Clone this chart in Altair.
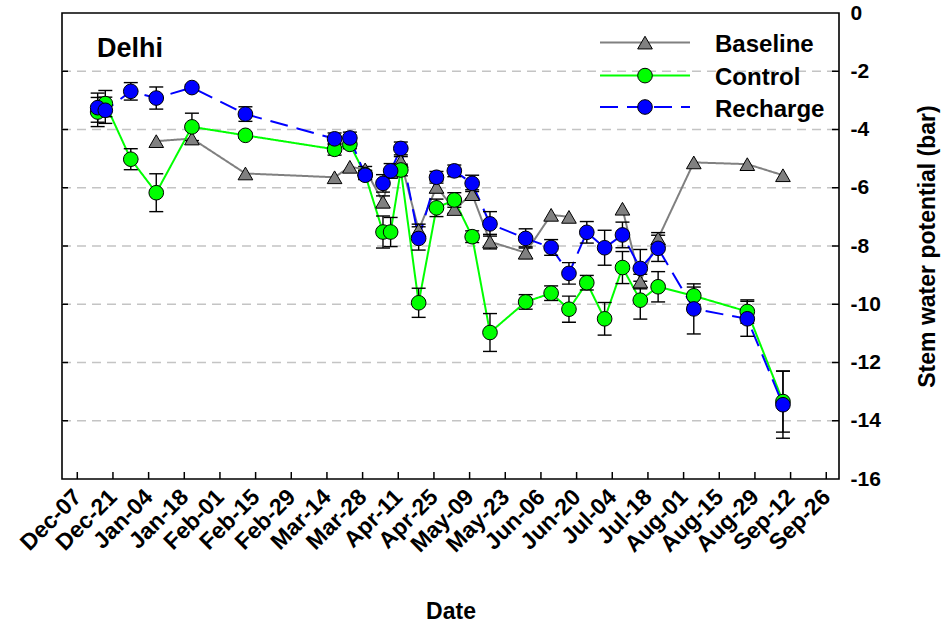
import altair as alt
import pandas as pd

# ---------------- data ----------------
dates = ["2007-12-15", "2007-12-18", "2007-12-28", "2008-01-07", "2008-01-21", "2008-02-11",
         "2008-03-17", "2008-03-23", "2008-03-29", "2008-04-05", "2008-04-08", "2008-04-12",
         "2008-04-19", "2008-04-26", "2008-05-03", "2008-05-10", "2008-05-17", "2008-05-31",
         "2008-06-10", "2008-06-17", "2008-06-24", "2008-07-01", "2008-07-08", "2008-07-15",
         "2008-07-22", "2008-08-05", "2008-08-26", "2008-09-09"]

baseline = [None, None, None, -4.40, -4.31, -5.51, -5.64, -5.28, -5.37, -6.48, -5.45, -5.08,
            -7.45, -5.97, -6.73, -6.22, -7.85, -8.23, -6.93, -7.00, None, None, -6.72, -9.22,
            -7.74, -5.13, -5.19, -5.57]
baseline_err = [0, 0, 0, 0, 0, 0, 0, 0, 0.1, 0.2, 0, 0.15, 0.2, 0.2, 0.15, 0.15, 0.25, 0.2,
                0, 0, 0, 0, 0, 0.25, 0.2, 0, 0, 0]

control = [-3.40, -3.11, -5.02, -6.17, -3.91, -4.20, -4.68, -4.51, -5.55, -7.52, -7.52, -5.39,
           -9.95, -6.69, -6.42, -7.68, -10.97, -9.92, -9.62, -10.17, -9.26, -10.50, -8.74, -9.86,
           -9.40, -9.71, -10.25, -13.34]
control_err = [0.5, 0.45, 0.36, 0.65, 0.47, 0.1, 0.2, 0.15, 0.15, 0.55, 0.5, 0.2, 0.5, 0.3,
               0.25, 0.2, 0.65, 0.25, 0.25, 0.45, 0.25, 0.56, 0.55, 0.65, 0.52, 0.3, 0.4, 1.05]

recharge = [-3.25, -3.34, -2.69, -2.92, -2.56, -3.47, -4.32, -4.29, -5.57, -5.85, -5.42, -4.65,
            -7.74, -5.64, -5.42, -5.85, -7.24, -7.74, -8.05, -8.94, -7.53, -8.06, -7.62, -8.77,
            -8.08, -10.16, -10.50, -13.45]
recharge_err = [0.5, 0.45, 0.3, 0.38, 0.1, 0.25, 0.2, 0.2, 0.15, 0.3, 0.25, 0.22, 0.4, 0.2,
                0.2, 0.28, 0.42, 0.33, 0.27, 0.37, 0.37, 0.6, 0.44, 0.65, 0.45, 0.86, 0.6, 1.15]

series_names = ["Baseline", "Control", "Recharge"]
series_colors = ["#808080", "#00ff00", "#0000ff"]
series_shapes = ["triangle-up", "circle", "circle"]
series_dash = [[1, 0], [1, 0], [18, 9]]

tick_dates = ["2007-12-07", "2007-12-21", "2008-01-04", "2008-01-18", "2008-02-01", "2008-02-15",
              "2008-02-29", "2008-03-14", "2008-03-28", "2008-04-11", "2008-04-25", "2008-05-09",
              "2008-05-23", "2008-06-06", "2008-06-20", "2008-07-04", "2008-07-18", "2008-08-01",
              "2008-08-15", "2008-08-29", "2008-09-12", "2008-09-26"]
y_ticks = [0, -2, -4, -6, -8, -10, -12, -14, -16]
grid_vals = [-2, -4, -6, -8, -10, -12, -14]
panel_label = ["Delhi"]
x_title = "Date"
y_title = "Stem water potential (bar)"

# ---------------- layout ----------------
W, H = 777, 466
FONT = "Liberation Sans"


def dt(s):
    return alt.DateTime(year=int(s[:4]), month=int(s[5:7]), date=int(s[8:10]), utc=True)


# ---------------- tables ----------------
rows = []
for name, vals, errs in zip(series_names, [baseline, control, recharge],
                            [baseline_err, control_err, recharge_err]):
    seg, gap = 0, True
    for d, v, e in zip(dates, vals, errs):
        if v is None:
            gap = True
            continue
        if gap:
            seg += 1
            gap = False
        rows.append(dict(date=d, series=name, value=v, err=e, lo=v - e, hi=v + e,
                         seg=f"{name}{seg}"))
df = pd.DataFrame(rows)
df_err = df[df["err"] > 0]

x_scale = alt.Scale(type="utc", domain=[dt("2007-12-01"), dt("2008-10-01")], nice=False)
y_scale = alt.Scale(domain=[-16, 0], nice=False, zero=False)

x_axis = alt.Axis(values=[dt(s) for s in tick_dates], labelExpr="utcFormat(datum.value, '%b-%d')",
                  labelAngle=315, labelAlign="right", labelBaseline="middle", labelFontSize=23,
                  labelFontWeight="bold", labelPadding=14, labelOverlap=False, labelFlush=False,
                  labelBound=False, ticks=False, tickSize=0, domain=False, grid=False,
                  title=x_title, titleFontSize=23, titleFontWeight="bold", titleY=139,
                  titleBaseline="alphabetic")
y_axis = alt.Axis(orient="right", values=y_ticks,
                  labelExpr="(datum.value < 0 ? '-' : '') + abs(datum.value)",
                  labelFontSize=21, labelFontWeight="bold",
                  labelPadding=11, labelOverlap=False, labelFlush=False, ticks=False, tickSize=0,
                  domain=False, grid=False, title=y_title, titleFontSize=23,
                  titleFontWeight="bold", titleAngle=270, titleX=88, titleY=H / 2,
                  titleAlign="center", titleBaseline="middle")


def X(field):
    return alt.X(field, scale=x_scale, axis=x_axis)


def Y(field):
    return alt.Y(field, scale=y_scale, axis=y_axis)


color_scale = alt.Scale(domain=series_names, range=series_colors)
shape_scale = alt.Scale(domain=series_names, range=series_shapes)
dash_scale = alt.Scale(domain=series_names, range=series_dash)

# gridlines
grid = alt.Chart(pd.DataFrame({"value": grid_vals})).mark_rule(
    color="#c4c4c4", strokeDash=[9, 6], strokeWidth=1.3
).encode(y=Y("value:Q"), x=alt.value(0), x2=alt.value(W))

# lines
lines = alt.Chart(df).mark_line(strokeWidth=2).encode(
    x=X("date:T"),
    y=Y("value:Q"),
    color=alt.Color("series:N", scale=color_scale, legend=None),
    strokeDash=alt.StrokeDash("series:N", scale=dash_scale, legend=None),
    detail="seg:N",
)

# error bars
err_rule = alt.Chart(df_err).mark_rule(color="black", strokeWidth=1.4).encode(
    x=X("date:T"), y=Y("lo:Q"), y2="hi:Q",
)
err_lo = alt.Chart(df_err).mark_tick(color="black", orient="horizontal", size=14,
                                     thickness=1.4, opacity=1).encode(
    x=X("date:T"), y=Y("lo:Q"),
)
err_hi = alt.Chart(df_err).mark_tick(color="black", orient="horizontal", size=14,
                                     thickness=1.4, opacity=1).encode(
    x=X("date:T"), y=Y("hi:Q"),
)

# symbols
points = alt.Chart(df).mark_point(filled=True, stroke="black", strokeWidth=1,
                                  opacity=1, size=215).encode(
    x=X("date:T"),
    y=Y("value:Q"),
    fill=alt.Fill("series:N", scale=color_scale, legend=None),
    shape=alt.Shape("series:N", scale=shape_scale, legend=None),
)

# inward ticks
yt = pd.DataFrame({"value": grid_vals})
ytick_left = alt.Chart(yt).mark_rule(color="black", strokeWidth=1.5).encode(
    y=Y("value:Q"), x=alt.value(0), x2=alt.value(6))
ytick_right = alt.Chart(yt).mark_rule(color="black", strokeWidth=1.5).encode(
    y=Y("value:Q"), x=alt.value(W - 7), x2=alt.value(W))
xtick = alt.Chart(pd.DataFrame({"date": tick_dates})).mark_rule(color="black", strokeWidth=1.5).encode(
    x=X("date:T"), y=alt.value(H), y2=alt.value(H - 7))

# panel label
label = alt.Chart(pd.DataFrame({"txt": panel_label})).mark_text(
    align="left", baseline="alphabetic", fontSize=27, fontWeight="bold", font=FONT, color="black"
).encode(text="txt:N", x=alt.value(35), y=alt.value(44))

# legend (line + symbol + text per series)
legend_layers = []
leg_y = [29.6, 62.6, 94.0]
for i, name in enumerate(series_names):
    ldf = pd.DataFrame({"series": [name]})
    legend_layers.append(
        alt.Chart(ldf).mark_rule(color=series_colors[i], strokeWidth=2,
                                 strokeDash=series_dash[i]).encode(
            x=alt.value(538), x2=alt.value(628), y=alt.value(leg_y[i])))
    legend_layers.append(
        alt.Chart(ldf).mark_point(filled=True, stroke="black", strokeWidth=1, opacity=1,
                                  size=215, shape=series_shapes[i],
                                  fill=series_colors[i]).encode(
            x=alt.value(583), y=alt.value(leg_y[i])))
    legend_layers.append(
        alt.Chart(ldf).mark_text(align="left", baseline="alphabetic", fontSize=24,
                                 fontWeight="bold", font=FONT, color="black").encode(
            text="series:N", x=alt.value(653), y=alt.value(leg_y[i] + 9.5)))

chart = alt.layer(
    grid, lines, err_rule, err_lo, err_hi, points, ytick_left, ytick_right, xtick, label,
    *legend_layers
).properties(
    width=W, height=H,
    autosize=alt.AutoSizeParams(type="none"),
    padding={"left": 62, "top": 13, "right": 948 - 62 - W, "bottom": 623 - 13 - H},
).configure_view(
    stroke="black", strokeWidth=1.6
).configure_axis(
    labelFont=FONT, titleFont=FONT, labelColor="black", titleColor="black"
).configure_text(font=FONT)

chart.save("out.html", embed_options={"renderer": "svg", "actions": False})
